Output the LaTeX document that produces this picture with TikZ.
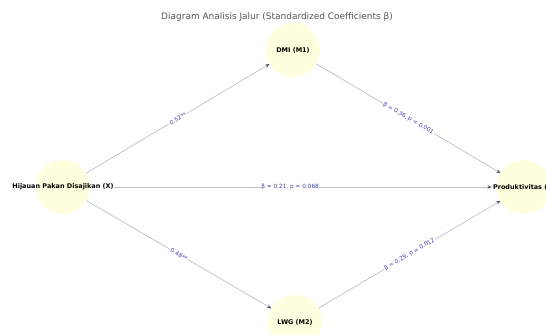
\documentclass[tikz,border=0pt]{standalone}
\usepackage{fontspec}
\setmainfont{DejaVu Sans}
\usetikzlibrary{arrows.meta,positioning}
\definecolor{jalurNode}{HTML}{FFFFDF}
\definecolor{jalurEdge}{HTML}{BFBFCC}
\definecolor{jalurHead}{HTML}{555566}
\definecolor{jalurBlue}{HTML}{4040B0}
\definecolor{jalurTitle}{HTML}{555555}

\begin{document}
\begin{tikzpicture}[x=1bp,y=-1bp,
    vnode/.style={circle,fill=jalurNode,minimum size=54bp,inner sep=0pt},
    vtext/.style={font=\fontsize{6.5}{7}\selectfont\bfseries,text=black,inner sep=1pt},
    vlink/.style={draw=jalurEdge,line width=0.7pt,
                  -{Stealth[length=4.5bp,width=3.5bp,color=jalurHead]}},
    vcoef/.style={font=\fontsize{5.8}{7}\selectfont,text=jalurBlue,sloped,
                  fill=white,inner sep=0.6pt,midway}]
  \useasboundingbox (0,0) rectangle (546,334);
  \node[font=\fontsize{9}{10}\selectfont,text=jalurTitle] (title) at (277,17)
    {Diagram Analisis Jalur (Standardized Coefficients β)};
  % variables
  \node[vnode] (x)  at (63,187)  {};
  \node[vnode] (m1) at (293,50)  {};
  \node[vnode] (m2) at (295,322) {};
  \node[vnode] (y)  at (524,187) {};
  % paths
  \draw[vlink] (x) -- (m1) node[vcoef] {0.52**};
  \draw[vlink] (m1) -- (y) node[vcoef] {β = 0.36, p < 0.001};
  \draw[vlink] (x) -- (m2) node[vcoef] {0.48**};
  \draw[vlink] (m2) -- (y) node[vcoef] {β = 0.29, p = 0.012};
  % labels
  \node[vtext] (xl)  at (x)  {Hijauan Pakan Disajikan (X)};
  \node[vtext] (m1l) at (m1) {DMI (M1)};
  \node[vtext] (m2l) at (m2) {LWG (M2)};
  \node[vtext] (yl)  at (y)  {Produktivitas (Y)};
  \draw[vlink] (xl) -- (yl) node[vcoef,pos=0.465] {β = 0.21, p = 0.068};
\end{tikzpicture}
\end{document}
